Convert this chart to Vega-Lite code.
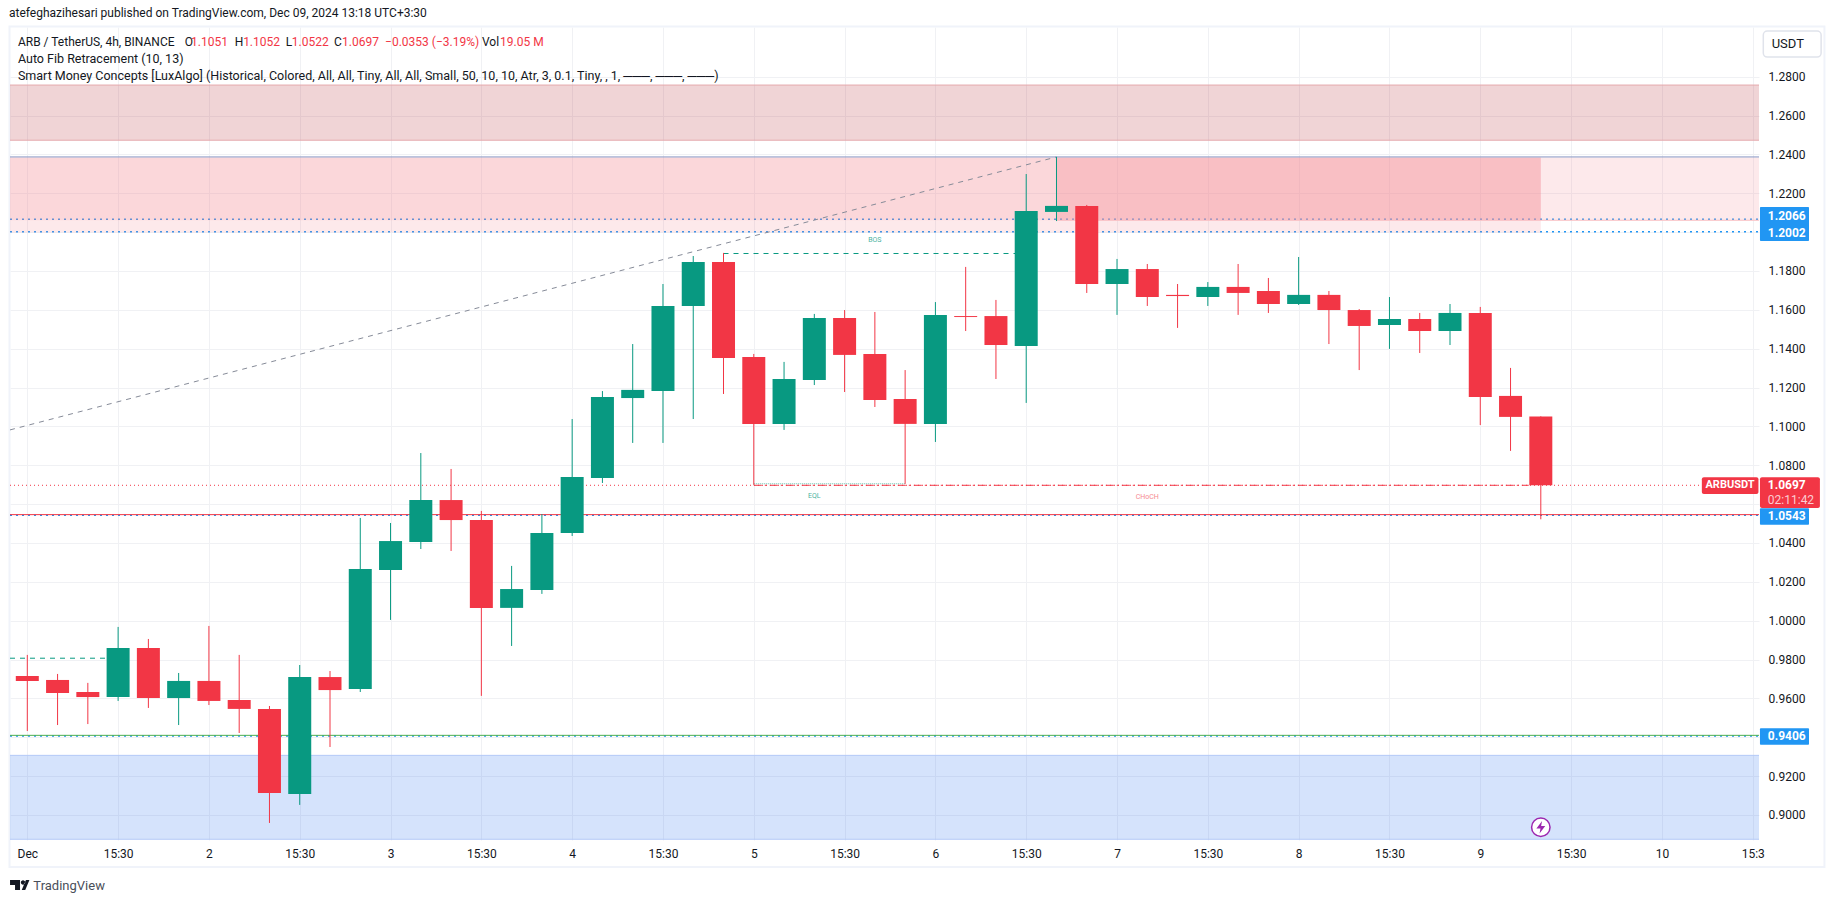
{"$schema":"https://vega.github.io/schema/vega-lite/v6.json","width":1749,"height":813,"autosize":{"type":"none"},"padding":{"left":10,"top":27,"right":76,"bottom":63},"background":"#ffffff","config":{"view":{"stroke":null},"font":"Roboto"},
"title":{"text":"atefeghazihesari published on TradingView.com, Dec 09, 2024 13:18 UTC+3:30","anchor":"start","frame":"group","dx":-1,"offset":5,"font":"Roboto","fontSize":12,"fontWeight":"normal","color":"#131722"},
"datasets":{
"candles":[
{"i":0,"open":0.9716,"close":0.9690,"high":0.9824,"low":0.9432,"dir":"down"},
{"i":1,"open":0.9695,"close":0.9628,"high":0.9726,"low":0.9463,"dir":"down"},
{"i":2,"open":0.9633,"close":0.9607,"high":0.9680,"low":0.9468,"dir":"down"},
{"i":3,"open":0.9607,"close":0.9860,"high":0.9968,"low":0.9587,"dir":"up"},
{"i":4,"open":0.9860,"close":0.9602,"high":0.9906,"low":0.9551,"dir":"down"},
{"i":5,"open":0.9602,"close":0.9690,"high":0.9731,"low":0.9463,"dir":"up"},
{"i":6,"open":0.9690,"close":0.9587,"high":0.9973,"low":0.9566,"dir":"down"},
{"i":7,"open":0.9592,"close":0.9546,"high":0.9824,"low":0.9422,"dir":"down"},
{"i":8,"open":0.9546,"close":0.9113,"high":0.9561,"low":0.8959,"dir":"down"},
{"i":9,"open":0.9108,"close":0.9710,"high":0.9772,"low":0.9052,"dir":"up"},
{"i":10,"open":0.9710,"close":0.9643,"high":0.9741,"low":0.9350,"dir":"down"},
{"i":11,"open":0.9649,"close":1.0266,"high":1.0529,"low":0.9633,"dir":"up"},
{"i":12,"open":1.0261,"close":1.0410,"high":1.0503,"low":1.0004,"dir":"up"},
{"i":13,"open":1.0405,"close":1.0621,"high":1.0863,"low":1.0369,"dir":"up"},
{"i":14,"open":1.0621,"close":1.0518,"high":1.0781,"low":1.0359,"dir":"down"},
{"i":15,"open":1.0518,"close":1.0066,"high":1.0565,"low":0.9613,"dir":"down"},
{"i":16,"open":1.0066,"close":1.0163,"high":1.0282,"low":0.9870,"dir":"up"},
{"i":17,"open":1.0158,"close":1.0452,"high":1.0549,"low":1.0138,"dir":"up"},
{"i":18,"open":1.0452,"close":1.0740,"high":1.1038,"low":1.0436,"dir":"up"},
{"i":19,"open":1.0735,"close":1.1152,"high":1.1182,"low":1.0709,"dir":"up"},
{"i":20,"open":1.1146,"close":1.1188,"high":1.1424,"low":1.0915,"dir":"up"},
{"i":21,"open":1.1182,"close":1.1620,"high":1.1733,"low":1.0915,"dir":"up"},
{"i":22,"open":1.1620,"close":1.1846,"high":1.1877,"low":1.1038,"dir":"up"},
{"i":23,"open":1.1846,"close":1.1352,"high":1.1893,"low":1.1167,"dir":"down"},
{"i":24,"open":1.1357,"close":1.1013,"high":1.1373,"low":1.0699,"dir":"down"},
{"i":25,"open":1.1013,"close":1.1244,"high":1.1332,"low":1.0982,"dir":"up"},
{"i":26,"open":1.1239,"close":1.1558,"high":1.1579,"low":1.1213,"dir":"up"},
{"i":27,"open":1.1558,"close":1.1368,"high":1.1599,"low":1.1177,"dir":"down"},
{"i":28,"open":1.1373,"close":1.1136,"high":1.1589,"low":1.1100,"dir":"down"},
{"i":29,"open":1.1141,"close":1.1013,"high":1.1290,"low":1.0704,"dir":"down"},
{"i":30,"open":1.1013,"close":1.1574,"high":1.1640,"low":1.0920,"dir":"up"},
{"i":31,"open":1.1568,"close":1.1563,"high":1.1821,"low":1.1491,"dir":"down"},
{"i":32,"open":1.1568,"close":1.1419,"high":1.1651,"low":1.1244,"dir":"down"},
{"i":33,"open":1.1414,"close":1.2109,"high":1.2299,"low":1.1121,"dir":"up"},
{"i":34,"open":1.2104,"close":1.2135,"high":1.2387,"low":1.2057,"dir":"up"},
{"i":35,"open":1.2135,"close":1.1733,"high":1.2140,"low":1.1687,"dir":"down"},
{"i":36,"open":1.1733,"close":1.1810,"high":1.1862,"low":1.1574,"dir":"up"},
{"i":37,"open":1.1810,"close":1.1666,"high":1.1836,"low":1.1620,"dir":"down"},
{"i":38,"open":1.1677,"close":1.1671,"high":1.1733,"low":1.1507,"dir":"down"},
{"i":39,"open":1.1666,"close":1.1718,"high":1.1743,"low":1.1620,"dir":"up"},
{"i":40,"open":1.1718,"close":1.1687,"high":1.1836,"low":1.1574,"dir":"down"},
{"i":41,"open":1.1697,"close":1.1630,"high":1.1764,"low":1.1584,"dir":"down"},
{"i":42,"open":1.1630,"close":1.1677,"high":1.1872,"low":1.1625,"dir":"up"},
{"i":43,"open":1.1677,"close":1.1599,"high":1.1697,"low":1.1424,"dir":"down"},
{"i":44,"open":1.1599,"close":1.1517,"high":1.1604,"low":1.1290,"dir":"down"},
{"i":45,"open":1.1522,"close":1.1553,"high":1.1666,"low":1.1399,"dir":"up"},
{"i":46,"open":1.1553,"close":1.1491,"high":1.1584,"low":1.1378,"dir":"down"},
{"i":47,"open":1.1491,"close":1.1584,"high":1.1630,"low":1.1419,"dir":"up"},
{"i":48,"open":1.1584,"close":1.1152,"high":1.1615,"low":1.1007,"dir":"down"},
{"i":49,"open":1.1157,"close":1.1049,"high":1.1301,"low":1.0874,"dir":"down"},
{"i":50,"open":1.1051,"close":1.0697,"high":1.1052,"low":1.0522,"dir":"down"}],
"zones":[
{"zone":"top","i":-0.5715,"i2":57.208,"price":1.2757,"price2":1.2473},
{"zone":"pinkA","i":-0.5715,"i2":57.208,"price":1.2384,"price2":1.2061},
{"zone":"pinkB","i":-0.5715,"i2":50,"price":1.2384,"price2":1.1998},
{"zone":"pinkC","i":34,"i2":50,"price":1.2384,"price2":1.2061},
{"zone":"blue","i":-0.5715,"i2":57.208,"price":0.9307,"price2":0.8875}],
"levels":[
{"kind":"alert","i":-0.5715,"i2":57.208,"price":1.2066},
{"kind":"alert","i":-0.5715,"i2":57.208,"price":1.2002},
{"kind":"alert","i":-0.5715,"i2":57.208,"price":1.0543},
{"kind":"alert","i":-0.5715,"i2":57.208,"price":0.9406},
{"kind":"resistance","i":-0.5715,"i2":57.208,"price":1.2387},
{"kind":"support","i":-0.5715,"i2":57.208,"price":1.0546},
{"kind":"floor","i":-0.5715,"i2":57.208,"price":0.9410},
{"kind":"last","i":-0.5715,"i2":55.32,"price":1.0697},
{"kind":"choch","i":24,"i2":49.6,"price":1.0697},
{"kind":"eql","i":24,"i2":29,"price":1.0705},
{"kind":"bos","i":23,"i2":33,"price":1.1890},
{"kind":"bos","i":-0.5715,"i2":3,"price":0.9807},
{"kind":"topEdge","i":-0.5715,"i2":57.208,"price":1.2757},
{"kind":"topEdge","i":-0.5715,"i2":57.208,"price":1.2473},
{"kind":"pinkEdge","i":34,"i2":57.208,"price":1.2061},
{"kind":"blueEdge","i":-0.5715,"i2":57.208,"price":0.9307},
{"kind":"blueEdge","i":-0.5715,"i2":57.208,"price":0.8875}],
"fib":[{"i":-0.5715,"price":1.0982},{"i":34,"price":1.2387}],
"tags":[
{"tag":"blue","i":57.24,"i2":58.86,"price":1.2129,"price2":1.1954},
{"tag":"blue","i":57.24,"i2":58.86,"price":1.0579,"price2":1.0494},
{"tag":"blue","i":57.24,"i2":58.86,"price":0.9446,"price2":0.9362},
{"tag":"red","i":57.24,"i2":59.22,"price":1.0738,"price2":1.0580},
{"tag":"red","i":55.32,"i2":57.19,"price":1.0738,"price2":1.0652}],
"labels":[
{"role":"hdr1","t":"ARB / TetherUS, 4h, BINANCE","i":-0.31,"price":1.2979},
{"role":"hdr1","t":"O","i":5.2,"price":1.2979},
{"role":"hdr1","t":"H","i":6.85,"price":1.2979},
{"role":"hdr1","t":"L","i":8.54,"price":1.2979},
{"role":"hdr1","t":"C","i":10.13,"price":1.2979},
{"role":"hdr1","t":"Vol","i":15.02,"price":1.2979},
{"role":"hdr","t":"Auto Fib Retracement (10, 13)","i":-0.31,"price":1.2891},
{"role":"hdr","t":"Smart Money Concepts [LuxAlgo] (Historical, Colored, All, All, Tiny, All, All, Small, 50, 10, 10, Atr, 3, 0.1, Tiny, , 1, ───, ───, ───)","i":-0.31,"price":1.2804},
{"role":"hdrRed","t":"1.1051","i":5.41,"price":1.2979},
{"role":"hdrRed","t":"1.1052","i":7.13,"price":1.2979},
{"role":"hdrRed","t":"1.0522","i":8.74,"price":1.2979},
{"role":"hdrRed","t":"1.0697","i":10.4,"price":1.2979},
{"role":"hdrRed","t":"−0.0353 (−3.19%)","i":11.82,"price":1.2979},
{"role":"hdrRed","t":"19.05 M","i":15.62,"price":1.2979},
{"role":"bos","t":"BOS","i":28,"price":1.1959},
{"role":"bos","t":"EQL","i":26,"price":1.0643},
{"role":"choch","t":"CHoCH","i":37,"price":1.0635},
{"role":"tag","t":"1.2066","i":57.5,"price":1.2083},
{"role":"tag","t":"1.2002","i":57.5,"price":1.1998},
{"role":"tag","t":"1.0543","i":57.5,"price":1.0537},
{"role":"tag","t":"0.9406","i":57.5,"price":0.9407},
{"role":"tag","t":"1.0697","i":57.5,"price":1.0699},
{"role":"timer","t":"02:11:42","i":57.5,"price":1.0621},
{"role":"sym","t":"ARBUSDT","i":56.25,"price":1.0696},
{"role":"unit","t":"USDT","i":58.16,"price":1.2968},
{"role":"brand","t":"TradingView","i":0.2,"price":0.8634}]
},
"encoding":{
"x":{"field":"i","type":"quantitative","scale":{"domain":[-0.5715,57.208],"nice":false,"zero":false,"padding":0},"axis":{"title":null,"values":[0,3,6,9,12,15,18,21,24,27,30,33,36,39,42,45,48,51,54,57],"labelExpr":"datum.value==0?'Dec':datum.value==57?'15:3':datum.value%6==3?'15:30':''+(floor(datum.value/6)+1)","domain":false,"ticks":false,"labelPadding":8,"labelFontSize":12,"labelFont":"Roboto","labelColor":"#131722","grid":true,"gridColor":"#f0f1f4","labelOverlap":false,"labelFlush":false,"labelBound":false}},
"y":{"field":"price","type":"quantitative","scale":{"domain":[0.88713,1.30558],"nice":false,"zero":false},"axis":{"title":null,"orient":"right","values":[0.90,0.92,0.94,0.96,0.98,1.00,1.02,1.04,1.06,1.08,1.10,1.12,1.14,1.16,1.18,1.20,1.22,1.24,1.26,1.28],"labelExpr":"abs(datum.value-1.06)<0.001||abs(datum.value-1.2)<0.001||abs(datum.value-0.94)<0.001?'':format(datum.value,'.4f')","domain":false,"ticks":false,"labelPadding":9,"labelFontSize":12,"labelFont":"Roboto","labelColor":"#131722","grid":true,"gridColor":"#f0f1f4","labelOverlap":false,"labelFlush":false,"labelBound":false}}
},
"layer":[
{"data":{"values":[{"i":-0.588,"i2":59.37,"price":1.30584,"price2":0.87324}]},"mark":{"type":"rect","fill":null,"stroke":"#f0f3fa","strokeWidth":2},"encoding":{"x2":{"field":"i2"},"y2":{"field":"price2"}}},
{"data":{"name":"levels"},"transform":[{"filter":"datum.kind=='alert'"}],"mark":{"type":"rule","stroke":"#2196f3","strokeWidth":1.5,"strokeDash":[2,4]},"encoding":{"x2":{"field":"i2"}}},
{"data":{"name":"zones"},"transform":[{"filter":"datum.zone=='top'"}],"mark":{"type":"rect","fill":"#b22833","fillOpacity":0.2,"stroke":null},"encoding":{"x2":{"field":"i2"},"y2":{"field":"price2"}}},
{"data":{"name":"zones"},"transform":[{"filter":"datum.zone=='pinkA'||datum.zone=='pinkB'"}],"mark":{"type":"rect","fill":"#f3858e","fillOpacity":0.18,"stroke":null},"encoding":{"x2":{"field":"i2"},"y2":{"field":"price2"}}},
{"data":{"name":"zones"},"transform":[{"filter":"datum.zone=='pinkC'"}],"mark":{"type":"rect","fill":"#f3858e","fillOpacity":0.285,"stroke":null},"encoding":{"x2":{"field":"i2"},"y2":{"field":"price2"}}},
{"data":{"name":"zones"},"transform":[{"filter":"datum.zone=='blue'"}],"mark":{"type":"rect","fill":"#226cef","fillOpacity":0.19,"stroke":null},"encoding":{"x2":{"field":"i2"},"y2":{"field":"price2"}}},
{"data":{"name":"levels"},"transform":[{"filter":"datum.kind=='topEdge'"}],"mark":{"type":"rule","stroke":"#e5a9ae","strokeWidth":1},"encoding":{"x2":{"field":"i2"}}},
{"data":{"name":"levels"},"transform":[{"filter":"datum.kind=='pinkEdge'"}],"mark":{"type":"rule","stroke":"#f9c0c4","strokeWidth":1},"encoding":{"x2":{"field":"i2"}}},
{"data":{"name":"levels"},"transform":[{"filter":"datum.kind=='blueEdge'"}],"mark":{"type":"rule","stroke":"#b4c9f7","strokeWidth":1},"encoding":{"x2":{"field":"i2"}}},
{"data":{"name":"fib"},"mark":{"type":"line","stroke":"#868b98","strokeWidth":1,"strokeDash":[5,5]},"encoding":{}},
{"data":{"name":"levels"},"transform":[{"filter":"datum.kind=='resistance'"}],"mark":{"type":"rule","stroke":"#8794c2","strokeWidth":1},"encoding":{"x2":{"field":"i2"}}},
{"data":{"name":"levels"},"transform":[{"filter":"datum.kind=='support'"}],"mark":{"type":"rule","stroke":"#f23645","strokeWidth":1},"encoding":{"x2":{"field":"i2"}}},
{"data":{"name":"levels"},"transform":[{"filter":"datum.kind=='floor'"}],"mark":{"type":"rule","stroke":"#4caf50","strokeWidth":1},"encoding":{"x2":{"field":"i2"}}},
{"data":{"name":"levels"},"transform":[{"filter":"datum.kind=='last'"}],"mark":{"type":"rule","stroke":"#f23645","strokeWidth":1,"strokeDash":[1,3]},"encoding":{"x2":{"field":"i2"}}},
{"data":{"name":"levels"},"transform":[{"filter":"datum.kind=='eql'"}],"mark":{"type":"rule","stroke":"#63c5b1","strokeWidth":1,"strokeDash":[1,1]},"encoding":{"x2":{"field":"i2"}}},
{"data":{"name":"levels"},"transform":[{"filter":"datum.kind=='choch'"}],"mark":{"type":"rule","stroke":"#f23645","strokeWidth":1,"strokeDash":[8,3,2,3]},"encoding":{"x2":{"field":"i2"}}},
{"data":{"name":"levels"},"transform":[{"filter":"datum.kind=='bos'"}],"mark":{"type":"rule","stroke":"#089981","strokeWidth":1,"strokeDash":[5,5]},"encoding":{"x2":{"field":"i2"}}},
{"data":{"name":"candles"},"mark":{"type":"rule","strokeWidth":1},"encoding":{"y":{"field":"low","type":"quantitative","scale":{"domain":[0.88713,1.30558],"nice":false,"zero":false},"axis":{"title":null,"orient":"right","values":[0.90,0.92,0.94,0.96,0.98,1.00,1.02,1.04,1.06,1.08,1.10,1.12,1.14,1.16,1.18,1.20,1.22,1.24,1.26,1.28],"labelExpr":"abs(datum.value-1.06)<0.001||abs(datum.value-1.2)<0.001||abs(datum.value-0.94)<0.001?'':format(datum.value,'.4f')","domain":false,"ticks":false,"labelPadding":9,"labelFontSize":12,"labelFont":"Roboto","labelColor":"#131722","grid":true,"gridColor":"#f0f1f4","labelOverlap":false,"labelFlush":false,"labelBound":false}},"y2":{"field":"high"},"color":{"field":"dir","type":"nominal","scale":{"domain":["up","down"],"range":["#089981","#f23645"]},"legend":null}}},
{"data":{"name":"candles"},"mark":{"type":"bar","size":23},"encoding":{"y":{"field":"open","type":"quantitative","scale":{"domain":[0.88713,1.30558],"nice":false,"zero":false},"axis":{"title":null,"orient":"right","values":[0.90,0.92,0.94,0.96,0.98,1.00,1.02,1.04,1.06,1.08,1.10,1.12,1.14,1.16,1.18,1.20,1.22,1.24,1.26,1.28],"labelExpr":"abs(datum.value-1.06)<0.001||abs(datum.value-1.2)<0.001||abs(datum.value-0.94)<0.001?'':format(datum.value,'.4f')","domain":false,"ticks":false,"labelPadding":9,"labelFontSize":12,"labelFont":"Roboto","labelColor":"#131722","grid":true,"gridColor":"#f0f1f4","labelOverlap":false,"labelFlush":false,"labelBound":false}},"y2":{"field":"close"},"color":{"field":"dir","type":"nominal","scale":{"domain":["up","down"],"range":["#089981","#f23645"]},"legend":null}}},
{"data":{"name":"tags"},"transform":[{"filter":"datum.tag=='blue'"}],"mark":{"type":"rect","fill":"#2196f3","cornerRadius":1},"encoding":{"x2":{"field":"i2"},"y2":{"field":"price2"}}},
{"data":{"name":"tags"},"transform":[{"filter":"datum.tag=='red'"}],"mark":{"type":"rect","fill":"#f23645","cornerRadius":2},"encoding":{"x2":{"field":"i2"},"y2":{"field":"price2"}}},
{"data":{"values":[{"i":57.35,"i2":59.26,"price":1.3035,"price2":1.2901}]},"mark":{"type":"rect","fill":"#ffffff","stroke":"#e0e3eb","strokeWidth":1.5,"cornerRadius":4},"encoding":{"x2":{"field":"i2"},"y2":{"field":"price2"}}},
{"data":{"name":"labels"},"transform":[{"filter":"datum.role=='hdr1'"}],"mark":{"type":"text","align":"left","baseline":"middle","font":"Roboto","fontSize":12,"color":"#131722"},"encoding":{"text":{"field":"t"}}},
{"data":{"name":"labels"},"transform":[{"filter":"datum.role=='hdr'"}],"mark":{"type":"text","align":"left","baseline":"middle","font":"Roboto","fontSize":12.5,"color":"#131722"},"encoding":{"text":{"field":"t"}}},
{"data":{"name":"labels"},"transform":[{"filter":"datum.role=='hdrRed'"}],"mark":{"type":"text","align":"left","baseline":"middle","font":"Roboto","fontSize":12,"color":"#f23645"},"encoding":{"text":{"field":"t"}}},
{"data":{"name":"labels"},"transform":[{"filter":"datum.role=='bos'"}],"mark":{"type":"text","align":"center","baseline":"middle","font":"Roboto","fontSize":7,"color":"#089981","opacity":0.75},"encoding":{"text":{"field":"t"}}},
{"data":{"name":"labels"},"transform":[{"filter":"datum.role=='choch'"}],"mark":{"type":"text","align":"center","baseline":"middle","font":"Roboto","fontSize":7,"color":"#f23645","opacity":0.6},"encoding":{"text":{"field":"t"}}},
{"data":{"name":"labels"},"transform":[{"filter":"datum.role=='tag'"}],"mark":{"type":"text","align":"left","baseline":"middle","font":"Roboto","fontSize":12,"fontWeight":"bold","color":"#ffffff"},"encoding":{"text":{"field":"t"}}},
{"data":{"name":"labels"},"transform":[{"filter":"datum.role=='timer'"}],"mark":{"type":"text","align":"left","baseline":"middle","font":"Roboto","fontSize":12,"color":"#fbcdd2"},"encoding":{"text":{"field":"t"}}},
{"data":{"name":"labels"},"transform":[{"filter":"datum.role=='sym'"}],"mark":{"type":"text","align":"center","baseline":"middle","font":"Roboto","fontSize":11,"fontWeight":"bold","color":"#ffffff"},"encoding":{"text":{"field":"t"}}},
{"data":{"name":"labels"},"transform":[{"filter":"datum.role=='unit'"}],"mark":{"type":"text","align":"center","baseline":"middle","font":"Roboto","fontSize":13,"color":"#131722"},"encoding":{"text":{"field":"t"}}},
{"data":{"name":"labels"},"transform":[{"filter":"datum.role=='brand'"}],"mark":{"type":"text","align":"left","baseline":"middle","font":"Roboto","fontSize":13,"color":"#4a4f5a"},"encoding":{"text":{"field":"t"}}},
{"data":{"values":[{"i":50,"price":0.8937}]},"mark":{"type":"point","shape":"circle","filled":true,"fill":"#ffffff","stroke":"#9c27b0","strokeWidth":1.5,"size":340,"opacity":1},"encoding":{}},
{"data":{"values":[{"i":50,"price":0.8937}]},"mark":{"type":"point","shape":"M0.2,-1L-0.7,0.2L-0.05,0.2L-0.2,1L0.7,-0.2L0.05,-0.2Z","filled":true,"fill":"#9c27b0","size":160,"opacity":1},"encoding":{}},
{"data":{"values":[{"i":-0.25,"price":0.86399}]},"mark":{"type":"point","shape":"M-0.97,-0.5H0.03V0.5H-0.47V0H-0.97ZM0.11,-0.25a0.22,0.22 0 1,0 0.44,0a0.22,0.22 0 1,0 -0.44,0ZM0.62,-0.5H0.97L0.55,0.5H0.2Z","filled":true,"fill":"#131722","size":400,"opacity":1},"encoding":{}}
]}
